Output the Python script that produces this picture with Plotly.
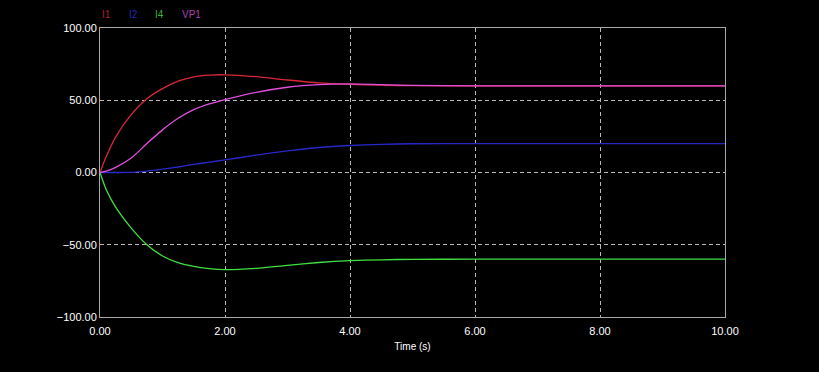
import plotly.graph_objects as go

time_s = [0, 0.1, 0.25, 0.5, 0.75, 1.0, 1.25, 1.5, 1.75, 2.0, 2.5, 3.0, 3.5, 4.0, 4.5, 5.0, 6.0, 7.0, 8.0, 10.0]
i1 = [0, 11, 24.5, 40, 51, 58, 63.2, 66.2, 67.4, 67.6, 66.3, 64, 62, 61, 60.4, 60.1, 60, 60, 60, 60]
i2 = [0, 0, 0, 0.1, 1.0, 2.3, 3.8, 5.6, 7.2, 8.7, 12, 15, 17.3, 18.7, 19.5, 19.9, 20, 20, 20, 20]
i4 = [0, -12, -24, -38.5, -50, -57.8, -62.4, -65, -66.5, -67.2, -66.3, -64.3, -62.3, -61, -60.4, -60.1, -60, -60, -60, -60]
vp1 = [0, 1, 3.5, 10, 20, 29.5, 37.5, 43.5, 47.5, 50.5, 55.5, 59, 60.8, 61.3, 60.8, 60.3, 60, 60, 60, 60]

series_names = ["I1", "I2", "I4", "VP1"]
line_colors = ["#d82838", "#2828c8", "#40e040", "#e050e0"]
label_colors = ["#b02030", "#2828b0", "#40b040", "#b040b0"]
label_x_px = [100, 127, 153, 180]

fig = go.Figure()
for name, ys, col in zip(series_names, [i1, i2, i4, vp1], line_colors):
    fig.add_trace(go.Scatter(x=time_s, y=ys, mode="lines", name=name,
                             line=dict(color=col, width=1.3, shape="spline", smoothing=0.6),
                             showlegend=False))

for name, col, px in zip(series_names, label_colors, label_x_px):
    fig.add_annotation(text=name, x=(px - 100) / 625, y=1 + 13 / 289, xref="paper", yref="paper",
                       xanchor="left", yanchor="middle", showarrow=False,
                       font=dict(color=col, size=10, family="Liberation Sans, Arial"))

axis_common = dict(showline=True, mirror=True, linecolor="#a8a8a8", linewidth=1,
                   showgrid=True, gridcolor="#b8b8b8", griddash="4px,3px", gridwidth=1,
                   zeroline=False, ticks="")

fig.update_xaxes(range=[0, 10], tickvals=[0, 2, 4, 6, 8, 10], tickformat=".2f",
                 tickfont=dict(color="white", size=11, family="Liberation Sans, Arial"),
                 ticklabelstandoff=4,
                 title=dict(text="Time (s)", font=dict(color="white", size=10,
                            family="Liberation Sans, Arial"), standoff=6),
                 **axis_common)
fig.update_yaxes(range=[-100, 100], tickvals=[-100, -50, 0, 50, 100], tickformat=".2f",
                 tickfont=dict(color="white", size=11, family="Liberation Sans, Arial"),
                 **axis_common)

fig.update_layout(width=819, height=372, paper_bgcolor="black", plot_bgcolor="black",
                  margin=dict(l=100, r=94, t=28, b=55))

fig.write_html("out.html", config={"displayModeBar": False},
               post_script="document.body.style.margin='0';document.body.style.background='black';document.body.style.overflow='hidden';")
